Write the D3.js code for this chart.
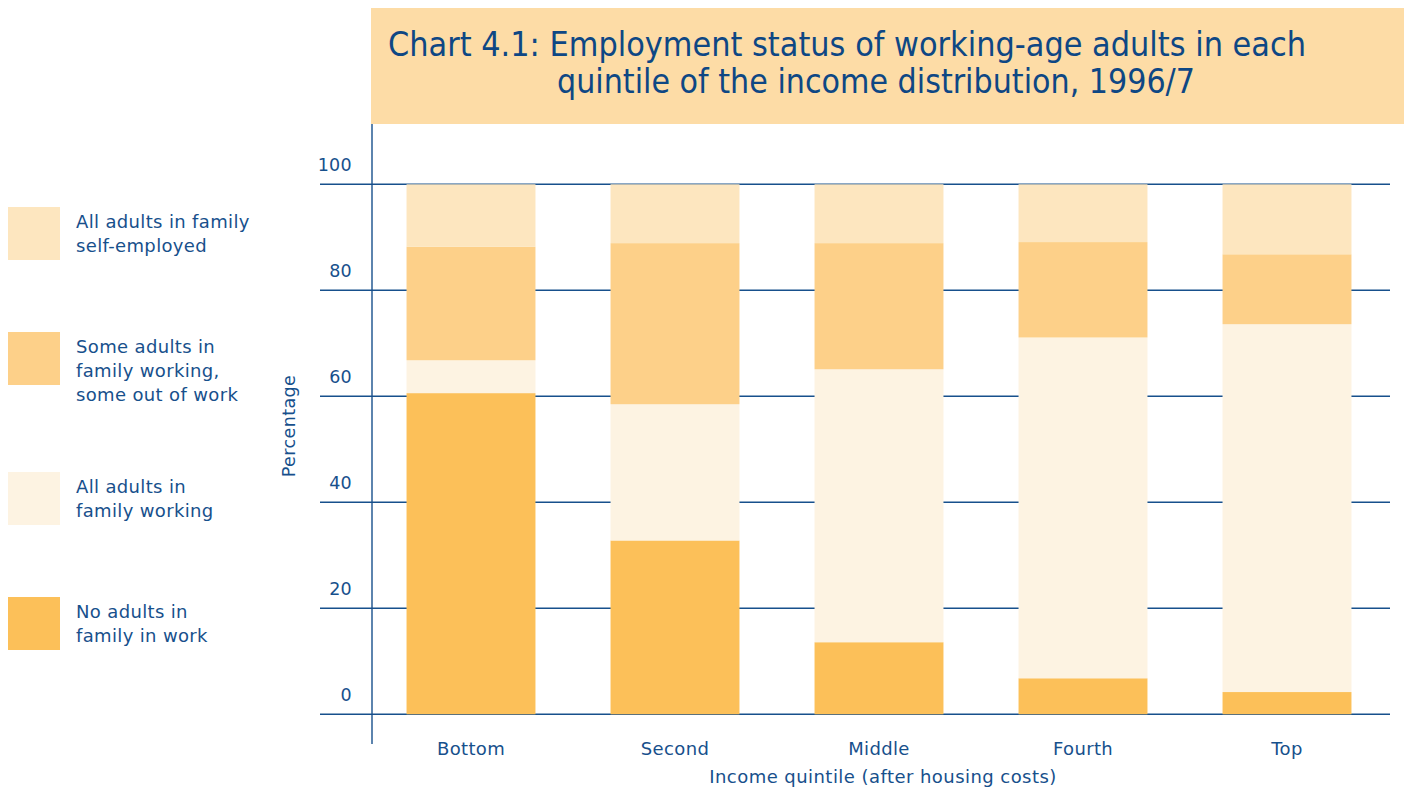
<!DOCTYPE html>
<html>
<head>
<meta charset="utf-8">
<script src="https://cdn.jsdelivr.net/npm/d3@7"></script>
<style>
  html, body { margin: 0; padding: 0; background: #ffffff; }
  svg { display: block; }
</style>
</head>
<body>
<svg id="chart" width="1404" height="787"></svg>
<script>
// Income quintiles (after housing costs)
const quintiles = ["Bottom", "Second", "Middle", "Fourth", "Top"];

// Share of working-age adults by family employment status (%), stacked bottom to top
const noAdultsInWork   = [60.6, 32.8, 13.6, 6.8, 4.2];
const allAdultsWorking = [6.2, 25.7, 51.5, 64.3, 69.4];
const someWorking      = [21.4, 30.4, 23.8, 18.0, 13.2];
const allSelfEmployed  = [11.8, 11.1, 11.1, 10.9, 13.2];

const yTicks = [0, 20, 40, 60, 80, 100];

const seriesKeys = ["none", "allWork", "some", "self"];
const seriesLabels = {
  self: ["All adults in family", "self-employed"],
  some: ["Some adults in", "family working,", "some out of work"],
  allWork: ["All adults in", "family working"],
  none: ["No adults in", "family in work"]
};
const seriesColors = {
  none: "#fcc059",
  allWork: "#fdf3e2",
  some: "#fdd089",
  self: "#fde6bf"
};

const ink = "#17508c";
const fontBody = "Verdana, 'DejaVu Sans', sans-serif";

const rows = quintiles.map((q, i) => ({
  quintile: q,
  none: noAdultsInWork[i],
  allWork: allAdultsWorking[i],
  some: someWorking[i],
  self: allSelfEmployed[i]
}));

const svg = d3.select("#chart");

// Title panel
svg.append("rect")
  .attr("x", 371).attr("y", 8)
  .attr("width", 1033).attr("height", 116)
  .attr("fill", "#fddca6");

const titleLines = [
  { text: "Chart 4.1: Employment status of working-age adults in each", x: 388, y: 56, w: 918 },
  { text: "quintile of the income distribution, 1996/7", x: 557, y: 93, w: 638 }
];
svg.append("g").selectAll("text")
  .data(titleLines)
  .join("text")
  .attr("x", d => d.x)
  .attr("y", d => d.y)
  .attr("textLength", d => d.w)
  .attr("lengthAdjust", "spacingAndGlyphs")
  .attr("font-family", "'DejaVu Sans Condensed', 'Liberation Sans Narrow', sans-serif")
  .attr("font-size", 33)
  .attr("fill", "#0e4784")
  .text(d => d.text);

// Scales
const x = d3.scaleBand()
  .domain(quintiles)
  .range([369, 1389])
  .paddingInner(0.368)
  .paddingOuter(0.184);

const y = d3.scaleLinear()
  .domain([0, 100])
  .range([714.3, 184.3]);

// Gridlines
const grid = svg.append("g");
grid.selectAll("line")
  .data(yTicks)
  .join("line")
  .attr("x1", 320).attr("x2", 1390)
  .attr("y1", d => y(d)).attr("y2", d => y(d))
  .attr("stroke", ink)
  .attr("stroke-width", 1.4);

// Stacked bars
const stack = d3.stack().keys(seriesKeys);
const layers = stack(rows);

svg.append("g")
  .selectAll("g")
  .data(layers)
  .join("g")
  .attr("fill", d => seriesColors[d.key])
  .selectAll("rect")
  .data(d => d)
  .join("rect")
  .attr("x", d => x(d.data.quintile))
  .attr("width", x.bandwidth())
  .attr("y", d => y(d[1]))
  .attr("height", d => y(d[0]) - y(d[1]));

// Vertical axis line
svg.append("line")
  .attr("x1", 372).attr("x2", 372)
  .attr("y1", 124).attr("y2", 744)
  .attr("stroke", ink)
  .attr("stroke-width", 1.4);

// Y tick labels sit above their gridlines
svg.append("g").selectAll("text")
  .data(yTicks)
  .join("text")
  .attr("x", 352)
  .attr("y", d => y(d) - 13)
  .attr("text-anchor", "end")
  .attr("font-family", fontBody)
  .attr("font-size", 17.5)
  .attr("letter-spacing", 0.3)
  .attr("fill", ink)
  .text(d => d);

// Y axis title
svg.append("text")
  .attr("transform", "translate(295,426) rotate(-90)")
  .attr("text-anchor", "middle")
  .attr("font-family", fontBody)
  .attr("font-size", 17.5)
  .attr("letter-spacing", 0.4)
  .attr("fill", ink)
  .text("Percentage");

// X axis category labels
const xAxis = d3.axisBottom(x).tickSize(0).tickPadding(0);
const xg = svg.append("g")
  .attr("transform", "translate(0,755)")
  .call(xAxis);
xg.select(".domain").remove();
xg.selectAll("text")
  .attr("font-family", fontBody)
  .attr("font-size", 18)
  .attr("letter-spacing", 0.35)
  .attr("fill", ink)
  .attr("dy", 0);

// X axis title
svg.append("text")
  .attr("x", 883)
  .attr("y", 783)
  .attr("text-anchor", "middle")
  .attr("font-family", fontBody)
  .attr("font-size", 18)
  .attr("letter-spacing", 0.45)
  .attr("fill", ink)
  .text("Income quintile (after housing costs)");

// Legend
const legendItems = [
  { key: "self", top: 207 },
  { key: "some", top: 332 },
  { key: "allWork", top: 472 },
  { key: "none", top: 597 }
];
const lg = svg.append("g");
const item = lg.selectAll("g")
  .data(legendItems)
  .join("g")
  .attr("transform", d => `translate(8,${d.top})`);
item.append("rect")
  .attr("width", 52).attr("height", 53)
  .attr("fill", d => seriesColors[d.key]);
item.append("text")
  .attr("font-family", fontBody)
  .attr("font-size", 18)
  .attr("letter-spacing", 0.35)
  .attr("fill", ink)
  .selectAll("tspan")
  .data(d => seriesLabels[d.key])
  .join("tspan")
  .attr("x", 68)
  .attr("y", (d, i) => 21 + i * 24)
  .text(d => d);
</script>
</body>
</html>
